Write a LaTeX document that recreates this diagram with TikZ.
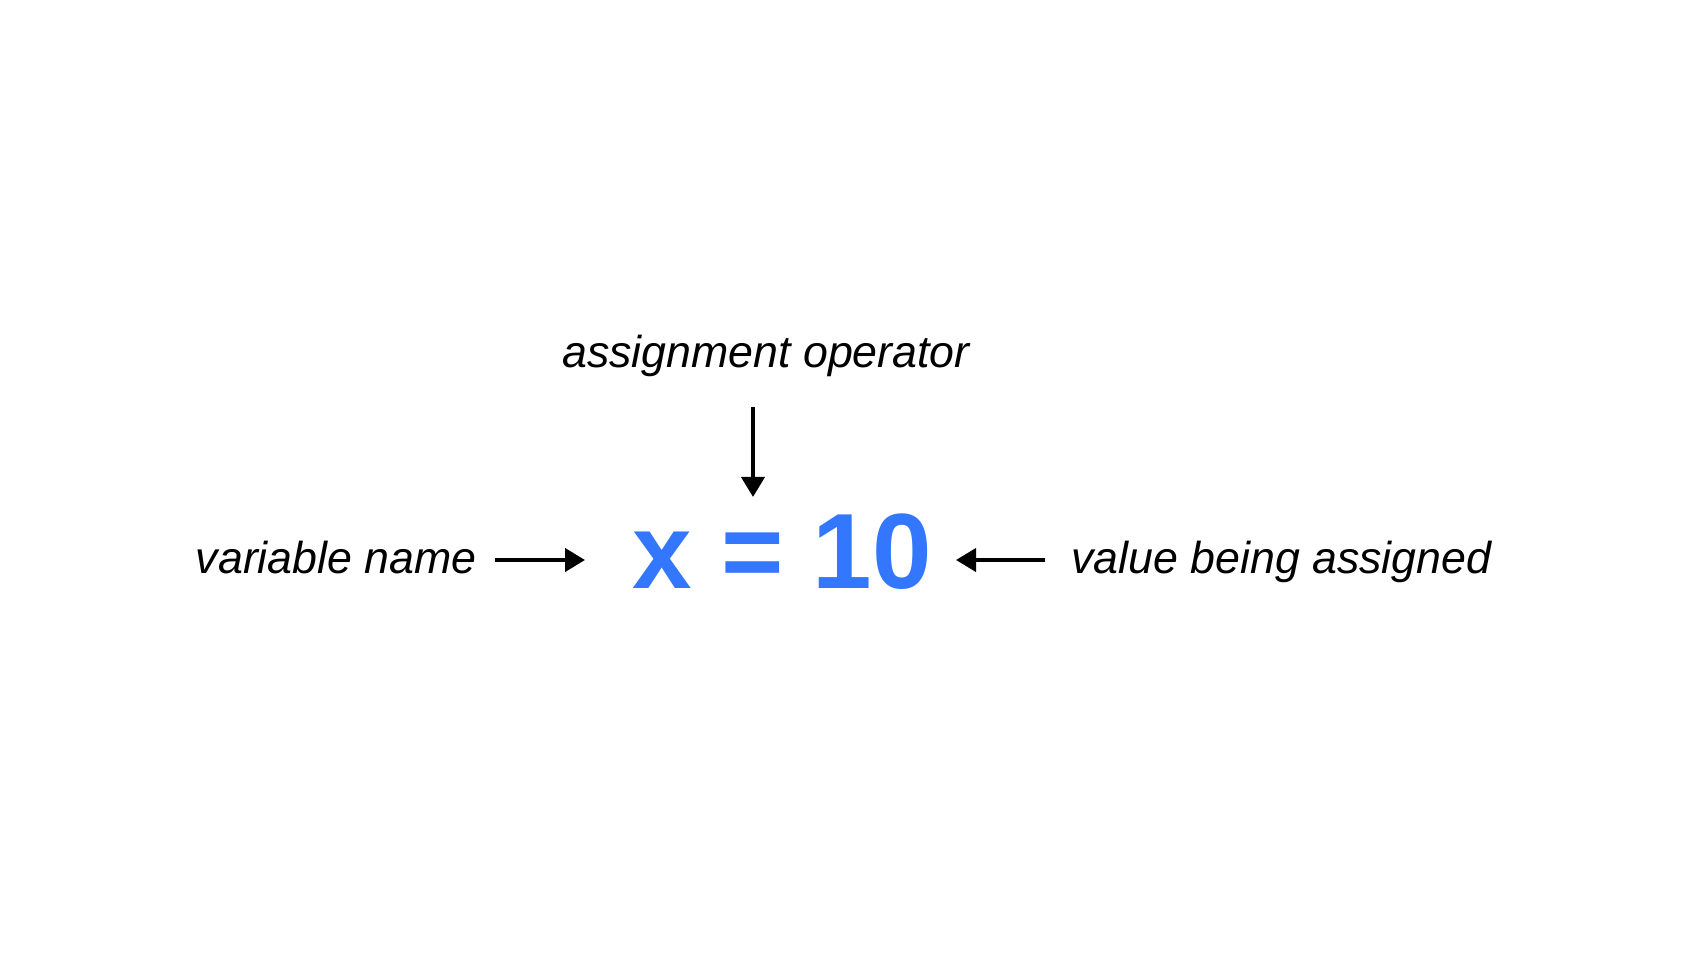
\documentclass[tikz,border=0pt]{standalone}
\usepackage{fontspec}
\setmainfont{Liberation Sans}
\usetikzlibrary{arrows.meta}
\definecolor{exprblue}{RGB}{51,119,255}

\begin{document}
\begin{tikzpicture}[x=0.5pt,y=-0.5pt,
    tag/.style={inner sep=0pt, text height=13pt, text depth=0pt,
        font=\fontsize{22.35}{26}\selectfont\itshape},
    expr/.style={inner sep=0pt, text=exprblue,
        font=\fontsize{53.5}{60}\selectfont\bfseries},
    arr/.style={-{Triangle[length=10pt,width=11.5pt]}, line width=2pt}]

\useasboundingbox (0,0) rectangle (1686,958);

% Assignment statement
\node[expr, anchor=base west] (xvar) at (632,588) {x};
\node[expr, anchor=base] (eqsign) at (753,588) {=};
\node[expr, anchor=base east] (ten) at (932,588) {10};

% Labels
\node[tag, anchor=base] (assign) at (766,367) {assignment operator};
\node[tag, anchor=base east] (var) at (477,573) {variable name};
\node[tag, anchor=base west] (value) at (1071,573) {value being assigned};

% Arrows
\draw[arr, shorten <=9pt, shorten >=23.5pt] (var.east) -- (var.east -| xvar.west);
\draw[arr, shorten <=20pt, shorten >=17.5pt] (assign.south -| eqsign) -- (eqsign.north);
\draw[arr, shorten <=13pt, shorten >=12pt] (value.west) -- (value.west -| ten.east);

\end{tikzpicture}
\end{document}
